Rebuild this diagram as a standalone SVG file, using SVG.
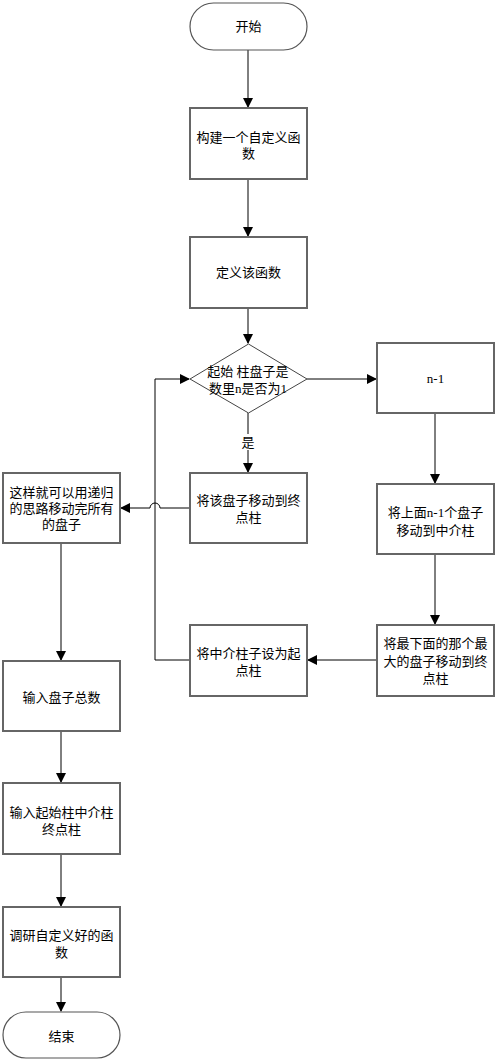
<svg xmlns="http://www.w3.org/2000/svg" width="497" height="1063" viewBox="0 0 497 1063">
<defs>
<marker id="ah" markerWidth="10" markerHeight="10" refX="9" refY="5" orient="auto" markerUnits="userSpaceOnUse">
<path d="M0,0 L10,5 L0,10 Z" fill="#000"/>
</marker>
<style>
.box{fill:#fff;stroke:#666;stroke-width:2}
.term{fill:#fff;stroke:#555;stroke-width:1.2}
.dia{fill:#fff;stroke:#444;stroke-width:1}
.t{font-family:"Liberation Serif","Noto Sans CJK SC",serif;font-size:13px;fill:#000;text-anchor:middle;dominant-baseline:central}
.c{fill:none;stroke:#000;stroke-width:1}
</style>
</defs>
<rect width="497" height="1063" fill="#fff"/>
<g id="connectors">
<path class="c" d="M248,50 V107" marker-end="url(#ah)"/>
<path class="c" d="M248,179 V236" marker-end="url(#ah)"/>
<path class="c" d="M248,308 V343" marker-end="url(#ah)"/>
<path class="c" d="M307,379 H376" marker-end="url(#ah)"/>
<path class="c" d="M248,413 V472" marker-end="url(#ah)"/>
<rect x="240" y="434" width="16" height="16" fill="#fff"/>
<text class="t" x="248" y="442">是</text>
<path class="c" d="M435,413 V483" marker-end="url(#ah)"/>
<path class="c" d="M435,554 V624" marker-end="url(#ah)"/>
<path class="c" d="M377,660 H308" marker-end="url(#ah)"/>
<path class="c" d="M190,660 H155 V379 H189" marker-end="url(#ah)"/>
<path class="c" d="M190,508 H160 A5,5 0 0 0 150,508 H121" marker-end="url(#ah)"/>
<path class="c" d="M61,543 V660" marker-end="url(#ah)"/>
<path class="c" d="M61,731 V782" marker-end="url(#ah)"/>
<path class="c" d="M61,854 V906" marker-end="url(#ah)"/>
<path class="c" d="M61,977 V1011" marker-end="url(#ah)"/>
</g>
<g id="start"><rect class="term" x="190" y="3" width="117" height="47" rx="23.5"/><text class="t" x="248.5" y="26">开始</text></g>
<g id="n1"><rect class="box" x="190" y="108" width="117" height="71"/><text class="t" x="248.5" y="137">构建一个自定义函</text><text class="t" x="248.5" y="153">数</text></g>
<g id="n2"><rect class="box" x="190" y="237" width="117" height="71"/><text class="t" x="248.5" y="272">定义该函数</text></g>
<g id="decision"><polygon class="dia" points="248.5,344 307,379 248.5,413 190,379"/><text class="t" x="248" y="371">起始 柱盘子是</text><text class="t" x="248" y="388">数里n是否为1</text></g>
<g id="n3"><rect class="box" x="377" y="343" width="117" height="70"/><text class="t" x="435.5" y="378">n-1</text></g>
<g id="n4"><rect class="box" x="190" y="473" width="117" height="70"/><text class="t" x="248.5" y="500">将该盘子移动到终</text><text class="t" x="248.5" y="517">点柱</text></g>
<g id="n5"><rect class="box" x="377" y="484" width="117" height="70"/><text class="t" x="435.5" y="512">将上面n-1个盘子</text><text class="t" x="435.5" y="530">移动到中介柱</text></g>
<g id="n6"><rect class="box" x="377" y="625" width="117" height="71"/><text class="t" x="435.5" y="643">将最下面的那个最</text><text class="t" x="435.5" y="661">大的盘子移动到终</text><text class="t" x="435.5" y="678">点柱</text></g>
<g id="n7"><rect class="box" x="190" y="625" width="117" height="71"/><text class="t" x="248.5" y="653">将中介柱子设为起</text><text class="t" x="248.5" y="670">点柱</text></g>
<g id="n8"><rect class="box" x="3" y="473" width="117" height="70"/><text class="t" x="61.5" y="492">这样就可以用递归</text><text class="t" x="61.5" y="508">的思路移动完所有</text><text class="t" x="61.5" y="524">的盘子</text></g>
<g id="n9"><rect class="box" x="3" y="661" width="117" height="70"/><text class="t" x="61.5" y="697">输入盘子总数</text></g>
<g id="n10"><rect class="box" x="3" y="783" width="117" height="71"/><text class="t" x="61.5" y="812">输入起始柱中介柱</text><text class="t" x="61.5" y="829">终点柱</text></g>
<g id="n11"><rect class="box" x="3" y="907" width="117" height="70"/><text class="t" x="61.5" y="935">调研自定义好的函</text><text class="t" x="61.5" y="952">数</text></g>
<g id="end"><rect class="term" x="3" y="1012" width="117" height="46" rx="23"/><text class="t" x="61.5" y="1036">结束</text></g>
</svg>
